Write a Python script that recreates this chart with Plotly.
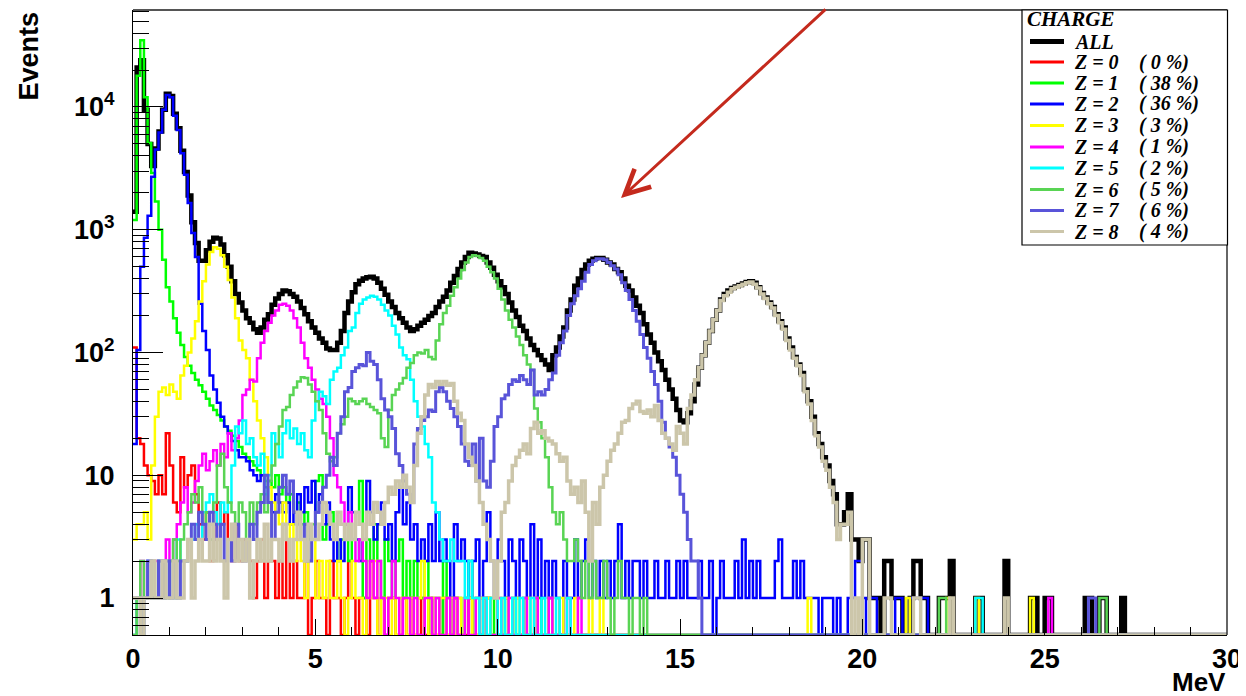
import plotly.graph_objects as go
import math

# ---------------- data (counts per 0.1 MeV bin, starting at 0 MeV) ----------------
NB = 300
BW = 0.1
YMIN = 0.5

all_main = [1400, 21000, 24000, 9500, 5000, 3300, 4600, 6300, 9500, 12800,
            12300, 8800, 6700, 4400, 2950, 1900, 1150, 780, 560, 560,
            680, 800, 860, 850, 760, 620, 500, 380, 300, 255,
            220, 190, 175, 155, 145, 160, 185, 205, 245, 275,
            300, 320, 315, 300, 285, 260, 230, 205, 180, 160,
            145, 130, 120, 108, 105, 105, 120, 150, 210, 260,
            310, 360, 385, 400, 410, 415, 400, 370, 330, 295,
            260, 235, 210, 190, 175, 160, 150, 155, 165, 175,
            185, 198, 210, 235, 260, 285, 320, 370, 420, 480,
            540, 600, 650, 640, 630, 610, 600, 540, 490, 430,
            380, 340, 300, 255, 220, 195, 165, 150, 130, 115,
            105, 95, 87, 80, 72, 95, 110, 135, 160, 220,
            270, 350, 400, 470, 520, 560, 580, 590, 590, 570,
            540, 520, 480, 450, 400, 350, 320, 280, 240, 210,
            170, 140, 120, 100, 85, 72, 60, 50, 42, 34,
            28, 27, 32, 40, 55, 75, 95, 120, 150, 185,
            220, 270, 300, 320, 335, 345, 355, 365, 375, 380,
            370, 340, 305, 280, 255, 235, 205, 180, 160, 130,
            110, 92, 80, 68, 50, 40, 30, 22, 18, 14,
            12, 9, 7, 4, 4, 5, 7, 3, 3, 2,
            3, 3, 1, 1, 1, 0, 2, 2, 1, 1,
            1, 0, 0, 1, 2, 2, 1, 1, 0, 0,
            0, 1, 1, 1, 2, 0, 0, 0, 0, 0,
            0, 1, 1, 0, 0, 0, 0, 0, 0, 2,
            0, 0, 0, 0, 0, 0, 1, 1, 0, 0,
            1, 1, 0, 0, 0, 0, 0, 0, 0, 0,
            0, 1, 1, 0, 0, 1, 1, 0, 0, 0,
            0, 1]
all_tail = {}

z0_main = [110, 20, 18, 12, 10, 9, 7, 10, 7, 22, 12, 6, 5, 14, 8, 10, 12, 7, 4, 3,
           5, 2, 3, 6, 4, 5, 3, 2, 4, 2, 3, 3, 2, 1, 2, 3, 1, 2, 2, 1,
           2, 1, 3, 1, 2, 1, 1, 2, 0, 1, 2, 1, 1, 0, 2, 1, 1, 0, 1, 2,
           1, 0, 1, 1, 0, 2, 1, 0, 1, 0, 1, 1, 0, 0, 1, 0, 1, 0, 0, 1,
           0, 1, 0, 0, 0, 1, 0, 0, 1, 0, 0, 0, 1, 0, 0, 0, 0, 1]
z0_tail = {}

z1_main = [1200, 18000, 35000, 12000, 5100, 2900, 1700, 1000, 570, 340,
           260, 190, 145, 115, 92, 78, 68, 60, 54, 48,
           42, 37, 34, 31, 28, 25, 23, 21, 19, 17,
           15, 14, 13, 12, 11, 10, 9, 9, 8, 10,
           7, 8, 6, 7, 5, 6, 4, 5, 3, 4,
           9, 10, 3, 4, 5, 3, 2, 3, 4, 2,
           3, 5, 9, 1, 3, 2, 4, 2, 1, 3,
           2, 1, 2, 3, 1, 2, 1, 2, 1, 1,
           2, 0, 1, 1, 0, 2, 1, 0, 1, 1,
           0, 1, 2, 0, 1, 0, 1, 1, 0, 1,
           0, 0, 1, 0, 1, 0, 0, 1, 0, 0,
           0, 1, 0, 0, 1]
z1_tail = {}

z2_main = [18, 105, 500, 860, 1300, 2700, 4500, 6200, 9500, 12500,
           12000, 8500, 6500, 4200, 2800, 1650, 940, 600, 250, 150,
           105, 65, 50, 39, 30, 25, 22, 19, 16, 14,
           14, 13, 11, 10, 9, 10, 8, 6, 5, 7,
           6, 5, 6, 4, 5, 7, 5, 8, 6, 9,
           5, 7, 4, 6, 3, 2, 3, 2, 4, 8,
           5, 3, 2, 3, 9, 5, 3, 4, 6, 3,
           4, 2, 5, 8, 4, 6, 3, 4, 2, 3,
           2, 4, 2, 5, 2, 3, 2, 1, 4, 2,
           3, 2, 1, 2, 3, 1, 2, 5, 2, 1,
           3, 2, 1, 3, 2, 1, 3, 2, 1, 4,
           1, 3, 1, 2, 1, 2, 1, 0, 2, 1,
           1, 3, 1, 2, 3, 1, 2, 1, 2, 1,
           2, 1, 2, 4, 1, 2, 1, 2, 2, 1,
           2, 1, 1, 2, 1, 1, 2, 1, 1, 2,
           1, 2, 1, 1, 1, 2, 1, 1, 2, 0,
           1, 2, 1, 1, 1, 2, 1, 3, 1, 2,
           1, 2, 1, 1, 1, 1, 2, 3, 1, 1,
           1, 2, 1, 2, 1, 1, 1, 1, 0, 1,
           1, 1, 0, 1, 0, 0, 1, 1, 2, 2,
           1, 0, 1, 1, 0, 0, 0, 0, 0, 1,
           1, 0, 0, 1, 1, 1, 1, 1]
z2_tail = {}

z3_main = [3, 4, 4, 5, 3, 12, 30, 48, 52, 45,
           55, 48, 42, 65, 78, 100, 130, 180, 260, 380,
           520, 660, 720, 700, 620, 500, 390, 280, 190, 125,
           105, 90, 60, 40, 28, 20, 14, 8, 6, 5,
           4, 6, 3, 4, 2, 3, 2, 1, 2, 3,
           1, 2, 1, 2, 1, 1, 2, 1, 0, 1,
           2, 1, 1, 0, 1, 1, 2, 0, 1, 1,
           0, 1, 0, 1, 1, 0, 1, 0, 1, 2,
           1, 0, 1, 0, 1, 1, 0, 1, 0, 1,
           0, 1, 1, 0, 0, 1, 0, 1, 0, 0,
           1, 0, 1, 0, 0, 1, 0, 0, 1, 0,
           1, 0, 0, 0, 1, 0, 0, 1, 0, 0,
           0, 1, 0, 0, 0, 1, 0, 0, 1]
z3_tail = {185: 1, 212: 1, 223: 1, 231: 1, 246: 1}

z4_main = [0, 1, 2, 1, 2, 2, 2, 1, 2, 3,
           2, 3, 4, 6, 8, 5, 6, 9, 12, 15,
           11, 13, 16, 12, 18, 14, 22, 16, 20, 28,
           45, 50, 60, 58, 90, 120, 150, 175, 200, 220,
           245, 250, 240, 220, 190, 160, 120, 90, 75, 60,
           50, 42, 38, 30, 20, 10, 8, 6, 4, 5,
           3, 2, 3, 2, 1, 2, 1, 2, 1, 0,
           1, 2, 1, 0, 1, 1, 0, 1, 0, 0,
           1, 1, 0, 1, 0, 0, 1, 0, 1, 0,
           0, 1, 0, 0, 1, 0, 1, 0, 0, 0,
           1, 0, 0, 1, 0, 0, 0, 1, 0, 0,
           1, 0, 0, 0, 1, 0, 0, 0, 0, 1,
           0, 0, 1]
z4_tail = {251: 1}

z5_main = [0, 1, 0, 1, 2, 1, 1, 2, 1, 2,
           2, 1, 3, 2, 2, 3, 3, 4, 3, 5,
           6, 7, 5, 4, 6, 5, 6, 12, 25, 22,
           28, 18, 20, 14, 12, 15, 7, 10, 22, 18,
           14, 22, 28, 20, 24, 18, 22, 16, 14, 28,
           40, 48, 44, 38, 60, 70, 75, 95, 110, 150,
           160, 210, 250, 270, 280, 290, 285, 270, 245, 220,
           200, 165, 140, 110, 95, 88, 60, 40, 30, 25,
           18, 14, 6, 5, 3, 2, 2, 3, 2, 2,
           2, 1, 2, 1, 1, 0, 1, 0, 1, 1,
           0, 1, 0, 0, 1, 0, 1, 0, 0, 1,
           0, 0, 1, 0, 0, 0, 1, 0, 0, 1]
z5_tail = {231: 1, 232: 1}

z6_main = [0, 1, 2, 1, 1, 2, 1, 2, 2, 1,
           2, 3, 2, 3, 4, 5, 7, 6, 8, 4,
           5, 3, 6, 12, 15, 8, 6, 5, 4, 6,
           5, 3, 6, 4, 6, 7, 5, 9, 12, 18,
           25, 34, 36, 45, 52, 58, 63, 62, 55, 48,
           40, 34, 22, 15, 13, 14, 22, 26, 30, 42,
           40, 38, 40, 42, 38, 36, 34, 32, 20, 17,
           34, 45, 50, 56, 62, 75, 82, 95, 100, 98,
           105, 92, 88, 125, 170, 210, 240, 290, 340, 400,
           470, 540, 600, 620, 610, 590, 560, 500, 450, 400,
           330, 270, 220, 185, 160, 135, 115, 95, 80, 72,
           35, 27, 20, 14, 8, 5, 4, 5, 3, 2,
           2, 3, 2, 1, 2, 1, 2, 1, 1, 2,
           1, 0, 1, 2, 1, 1, 0, 1, 1, 0,
           1]
z6_tail = {221: 1, 222: 1, 265: 1, 266: 1}

z7_main = [1, 1, 0, 1, 2, 1, 1, 2, 1, 2,
           1, 2, 1, 2, 2, 3, 4, 3, 5, 4,
           3, 5, 4, 3, 4, 2, 3, 2, 4, 3,
           2, 3, 4, 3, 5, 6, 10, 6, 3, 5,
           8, 10, 7, 9, 5, 4, 3, 4, 2, 3,
           5, 6, 8, 10, 14, 12, 22, 30, 48, 52,
           70, 75, 80, 78, 100, 85, 80, 60, 42, 34,
           30, 24, 15, 12, 9, 7, 6, 18, 24, 28,
           30, 34, 33, 48, 52, 48, 40, 35, 30, 25,
           18, 13, 12, 18, 9, 20, 9, 8, 13, 25,
           30, 42, 45, 55, 60, 58, 65, 60, 55, 72,
           45, 48, 45, 50, 60, 68, 95, 120, 150, 200,
           250, 290, 330, 380, 450, 520, 560, 580, 580, 570,
           540, 510, 480, 430, 370, 320, 270, 220, 180, 140,
           110, 90, 70, 55, 40, 27, 20, 17, 14, 10,
           7, 5, 3, 2, 2, 1]
z7_tail = {262: 1, 263: 1}

z8_main = [1, 1, 0, 1, 1, 2, 1, 1, 2, 1,
           1, 2, 1, 1, 2, 3, 1, 2, 3, 2,
           2, 4, 2, 3, 2, 1, 3, 4, 2, 3,
           2, 3, 1, 2, 3, 2, 4, 2, 3, 3,
           2, 4, 3, 2, 3, 5, 3, 2, 4, 3,
           3, 4, 6, 5, 4, 3, 5, 4, 3, 4,
           3, 5, 4, 3, 5, 4, 6, 5, 4, 6,
           8, 7, 9, 8, 10, 8, 6, 12, 22, 30,
           45, 55, 52, 58, 55, 58, 54, 56, 40, 32,
           28, 18, 14, 12, 9, 6, 4, 3, 2, 1,
           2, 5, 6, 9, 12, 14, 16, 18, 15, 24,
           27, 22, 23, 20, 19, 18, 15, 13, 14, 9,
           7, 8, 6, 9, 5, 2, 6, 4, 8, 10,
           13, 16, 18, 22, 27, 28, 35, 38, 40, 33,
           32, 34, 30, 37, 28, 22, 20, 18, 16, 25,
           22, 18, 35, 45, 60, 75, 95, 120, 150, 185,
           220, 265, 290, 310, 330, 340, 350, 360, 370, 375,
           360, 335, 300, 275, 250, 230, 200, 175, 155, 125,
           105, 90, 78, 65, 48, 38, 28, 21, 17, 13,
           11, 8, 6, 3, 4, 4, 5, 0, 1, 0,
           3, 3]
z8_tail = {206: 1, 207: 1, 214: 1, 215: 1, 224: 1, 239: 1}

series_names = ["ALL", "Z = 0", "Z = 1", "Z = 2", "Z = 3", "Z = 4",
                "Z = 5", "Z = 6", "Z = 7", "Z = 8"]
series_pct = ["", "( 0 %)", "( 38 %)", "( 36 %)", "( 3 %)", "( 1 %)",
              "( 2 %)", "( 5 %)", "( 6 %)", "( 4 %)"]
series_main = [all_main, z0_main, z1_main, z2_main, z3_main, z4_main,
               z5_main, z6_main, z7_main, z8_main]
series_tail = [all_tail, z0_tail, z1_tail, z2_tail, z3_tail, z4_tail,
               z5_tail, z6_tail, z7_tail, z8_tail]
series_colors = ["#000000", "#ff0000", "#00ff00", "#0000ff", "#ffff00", "#ff00ff",
                 "#00ffff", "#59d454", "#5954d9", "#ccc6aa"]
series_widths = [4.5, 2.5, 2.5, 2.5, 2.5, 2.5, 2.5, 2.5, 3, 3.5]

x_ticks = [0, 5, 10, 15, 20, 25, 30]
y_ticks = [1, 10, 100, 1000, 10000]
y_ticktext = ["1", "10", "10<sup>2</sup>", "10<sup>3</sup>", "10<sup>4</sup>"]

# ---------------- layout geometry ----------------
# the page body has an 8 px margin, so the figure is 8 px smaller and offset
PAGE_OFF = 8
FW, FH = 1246 - PAGE_OFF, 696 - PAGE_OFF
PLOT_L, PLOT_R, PLOT_T, PLOT_B = 133, 1227, 10, 635      # plot box in page pixels
ML = PLOT_L - PAGE_OFF
MT = PLOT_T - PAGE_OFF
MR = FW + PAGE_OFF - PLOT_R
MB = FH + PAGE_OFF - PLOT_B
PW, PH = PLOT_R - PLOT_L, PLOT_B - PLOT_T


def px(x):
    return (x - PLOT_L) / PW


def py(y):
    return (PLOT_B - y) / PH


edges = [i * BW for i in range(NB + 1)]

fig = go.Figure()
for name, main, tail, col, w in zip(series_names, series_main, series_tail,
                                    series_colors, series_widths):
    counts = list(main) + [0] * (NB - len(main))
    for b, c in tail.items():
        counts[b] = c
    yd = [c if c > 0 else YMIN for c in counts]
    yd = yd + [yd[-1]]
    fig.add_trace(go.Scatter(x=edges, y=yd, mode="lines", name=name,
                             line=dict(color=col, width=w, shape="hv"),
                             showlegend=False, hoverinfo="skip"))

tickfont = dict(family="Liberation Sans", size=27, color="black", weight="bold")

minor_y = []
for d in range(-1, 5):
    for k in range(2, 10):
        v = k * 10 ** d
        if 0.5 < v < 6.2e4:
            minor_y.append(v)

fig.update_xaxes(range=[0, 30], tickmode="array", tickvals=x_ticks,
                 ticks="inside", ticklen=16, tickwidth=1, tickcolor="black",
                 minor=dict(ticks="inside", ticklen=8, dtick=1, tickcolor="black", tickwidth=1),
                 showgrid=False, zeroline=False, showline=True, linecolor="black",
                 linewidth=1, tickfont=tickfont, ticklabelstandoff=0, automargin=False)
fig.update_yaxes(type="log", range=[math.log10(YMIN), 4.79], tickmode="array",
                 tickvals=y_ticks, ticktext=y_ticktext,
                 ticks="inside", ticklen=30, tickwidth=1, tickcolor="black",
                 minor=dict(ticks="inside", ticklen=16, tickmode="array", tickvals=minor_y,
                            tickcolor="black", tickwidth=1),
                 showgrid=False, zeroline=False, showline=True, linecolor="black",
                 linewidth=1, tickfont=tickfont, ticklabelstandoff=12, automargin=False)

shapes = [
    dict(type="line", xref="paper", yref="paper", x0=0, x1=1, y0=1, y1=1,
         line=dict(color="#555555", width=2), layer="above"),
    dict(type="line", xref="paper", yref="paper", x0=1, x1=1, y0=0, y1=1,
         line=dict(color="#333333", width=1.5), layer="above"),
    dict(type="rect", xref="paper", yref="paper", x0=px(1022), x1=px(1227.5),
         y0=py(245), y1=py(10), line=dict(color="black", width=1.2),
         fillcolor="white", layer="above"),
]

LFONT = dict(family="Liberation Serif", size=20, color="black")
annotations = [
    dict(text="<b><i>CHARGE</i></b>", x=px(1026), y=py(19), xref="paper", yref="paper",
         xanchor="left", yanchor="middle", showarrow=False, borderpad=0,
         font=dict(family="Liberation Serif", size=21, color="black")),
]

row_y = [41.5, 62, 83, 104, 125.5, 147, 168, 189.5, 210.5, 231.5]
for i, (name, pct, col) in enumerate(zip(series_names, series_pct, series_colors)):
    yy = py(row_y[i])
    shapes.append(dict(type="line", xref="paper", yref="paper", x0=px(1030), x1=px(1064),
                       y0=yy, y1=yy, line=dict(color=col, width=5 if i == 0 else 3),
                       layer="above"))
    annotations.append(dict(text="<b><i>%s</i></b>" % name, x=px(1073), y=yy,
                            xref="paper", yref="paper", xanchor="left", yanchor="middle",
                            showarrow=False, borderpad=0, font=LFONT))
    if pct:
        annotations.append(dict(text="<b><i>%s</i></b>" % pct, x=px(1138), y=yy,
                                xref="paper", yref="paper", xanchor="left", yanchor="middle",
                                showarrow=False, borderpad=0, font=LFONT))

annotations.append(dict(text="<b>Events</b>", textangle=-90, x=px(28), y=py(10),
                        xref="paper", yref="paper", xanchor="center", yanchor="top",
                        showarrow=False,
                        font=dict(family="Liberation Sans", size=27, color="black")))
annotations.append(dict(text="<b>MeV</b>", x=1, y=py(682), xref="paper", yref="paper",
                        xanchor="right", yanchor="middle", showarrow=False, borderpad=0,
                        font=dict(family="Liberation Sans", size=26, color="black")))
annotations.append(dict(text="", x=px(621), y=py(198), xref="paper", yref="paper",
                        ax=206, ay=-208, axref="pixel", ayref="pixel", showarrow=True,
                        arrowhead=5, arrowsize=1.6, arrowwidth=3, arrowcolor="#c42a1d"))

fig.update_layout(width=FW, height=FH, margin=dict(l=ML, r=MR, t=MT, b=MB),
                  plot_bgcolor="white", paper_bgcolor="white",
                  shapes=shapes, annotations=annotations, showlegend=False)

fig.write_html("out.html", config={"displayModeBar": False})
